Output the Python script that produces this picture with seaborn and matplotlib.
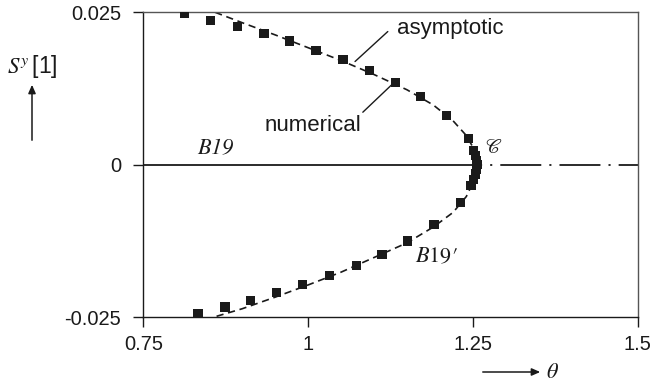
import matplotlib
matplotlib.use("Agg")
import matplotlib.pyplot as plt
import seaborn as sns
import pandas as pd

# Numerical solution (square markers), upper branch B19 and lower branch B19'
theta_num = [0.813, 0.852, 0.893, 0.933, 0.972, 1.012, 1.053, 1.093, 1.132, 1.171, 1.210, 1.243,
             1.251, 1.254, 1.256, 1.257, 1.256, 1.254, 1.251,
             1.247, 1.231, 1.191, 1.151, 1.112, 1.073, 1.032, 0.992, 0.952, 0.913, 0.874, 0.833]
s_num = [0.0248, 0.0237, 0.0227, 0.0215, 0.0203, 0.0188, 0.0173, 0.0154, 0.0135, 0.0112, 0.0081, 0.0043,
         0.0024, 0.0015, 0.0007, 0.0000, -0.0007, -0.0015, -0.0024,
         -0.0034, -0.0062, -0.0098, -0.0125, -0.0147, -0.0165, -0.0182, -0.0196, -0.0209, -0.0223, -0.0233, -0.0244]

# Asymptotic solution (dashed curve)
theta_asy = [0.859, 0.90, 0.95, 1.00, 1.05, 1.10, 1.15, 1.19, 1.22, 1.24, 1.252, 1.257,
             1.252, 1.24, 1.22, 1.19, 1.15, 1.10, 1.05, 1.00, 0.95, 0.90, 0.856]
s_asy = [0.0250, 0.0233, 0.0213, 0.0192, 0.0171, 0.0148, 0.0123, 0.0098, 0.0072, 0.0048, 0.0025, 0.0,
         -0.0025, -0.0052, -0.0078, -0.0102, -0.0128, -0.0152, -0.0176, -0.0197, -0.0217, -0.0236, -0.0250]

# Trivial branch S^y = 0: stable part up to the critical point, unstable beyond
theta_crit = 1.257
theta_range = [0.75, 1.5]

x_ticks = [0.75, 1.0, 1.25, 1.5]
x_ticklabels = ["0.75", "1", "1.25", "1.5"]
y_ticks = [-0.025, 0.0, 0.025]
y_ticklabels = ["-0.025", "0", "0.025"]

INK = "#1a1a1a"

sns.set_theme(style="ticks")
plt.rcParams["font.family"] = ["Liberation Sans", "DejaVu Sans"]
plt.rcParams["mathtext.fontset"] = "stix"
plt.rcParams["lines.scale_dashes"] = False

fig = plt.figure(figsize=(6.54, 3.86), dpi=100)
ax = fig.add_axes([0.2191, 0.178, 0.7560, 0.7901])

num = pd.DataFrame({"theta": theta_num, "S": s_num})
asy = pd.DataFrame({"theta": theta_asy, "S": s_asy})

# trivial branch: solid up to the critical point, dash-dot beyond it
ax.plot([theta_range[0], theta_crit], [0, 0], color=INK, lw=1.3, zorder=1)
ax.plot([1.262, theta_range[1]], [0, 0], color=INK, lw=1.3,
        linestyle=(28.7, (29.5, 5.8, 1.5, 5.8)), zorder=1)

sns.lineplot(data=asy, x="theta", y="S", sort=False, estimator=None, ax=ax,
             color=INK, lw=1.2, linestyle=(0, (5.2, 3.4)), zorder=2)
sns.scatterplot(data=num, x="theta", y="S", ax=ax, marker="s", s=44,
                color=INK, edgecolor="none", linewidth=0, zorder=3)

ax.set_xlim(theta_range)
ax.set_ylim(-0.025, 0.025)
ax.set_xticks(x_ticks)
ax.set_xticklabels(x_ticklabels)
ax.set_yticks(y_ticks)
ax.set_yticklabels(y_ticklabels)
ax.set_xlabel("")
ax.set_ylabel("")
ax.tick_params(direction="out", length=7, width=1, color=INK,
               labelsize=14.5, labelcolor=INK)
ax.tick_params(axis="x", pad=6)
ax.tick_params(axis="y", pad=9)
for name, sp in ax.spines.items():
    sp.set_visible(True)
    sp.set_linewidth(1.0)
    sp.set_color(INK if name in ("left", "bottom") else "#555555")

# annotations with leader lines
ax.annotate("", xy=(1.0712, 0.01693), xytext=(1.1209, 0.02185),
            arrowprops=dict(arrowstyle="-", color=INK, lw=1, shrinkA=0, shrinkB=0))
ax.text(1.135, 0.0223, "asymptotic", fontsize=16, color=INK, va="center", ha="left")
ax.annotate("", xy=(1.1309, 0.01354), xytext=(1.083, 0.00862),
            arrowprops=dict(arrowstyle="-", color=INK, lw=1, shrinkA=0, shrinkB=0))
ax.text(1.0805, 0.0064, "numerical", fontsize=16, color=INK, va="center", ha="right")
ax.text(0.8605, 0.0027, r"$\mathit{B}$19", fontsize=16, color=INK, ha="center", va="center",
        family="STIXGeneral", style="italic")
ax.text(1.194, -0.01515, r"$\mathit{B}19\prime$", fontsize=16, color=INK,
        ha="center", va="center")
ax.text(1.2808, 0.0028, r"$\mathscr{C}$", fontsize=14, color=INK, ha="center", va="center")

# axis titles with arrows
fig.text(32 / 654, 1 - 66 / 386, r"$S^{y}\,$[1]", fontsize=16.5, color=INK,
         ha="center", va="center")
fig.add_artist(matplotlib.patches.FancyArrowPatch(
    (32 / 654, 1 - 143 / 386), (32 / 654, 1 - 82 / 386), transform=fig.transFigure,
    arrowstyle="-|>,head_length=5,head_width=2.2", color=INK, lw=1.1, mutation_scale=1))
fig.add_artist(matplotlib.patches.FancyArrowPatch(
    (480 / 654, 1 - 372 / 386), (543 / 654, 1 - 372 / 386), transform=fig.transFigure,
    arrowstyle="-|>,head_length=5,head_width=2.2", color=INK, lw=1.1, mutation_scale=1))
fig.text(553 / 654, 1 - 372 / 386, r"$\theta$", fontsize=16, color=INK,
         ha="center", va="center")

fig.savefig("out.png", dpi=100)
